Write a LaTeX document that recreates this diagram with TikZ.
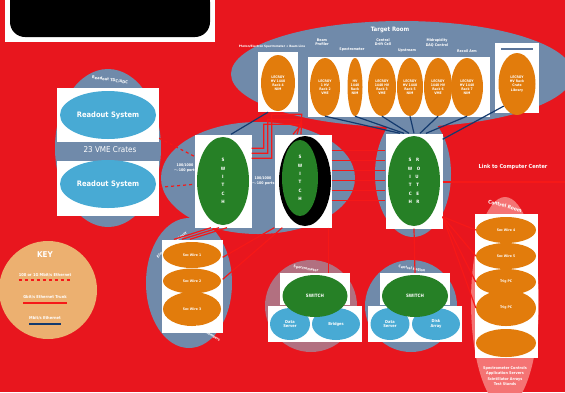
\documentclass[tikz,border=0pt]{standalone}
\usepackage{fontspec}
\setmainfont{DejaVu Sans Condensed}
\usetikzlibrary{shapes.geometric}
\usetikzlibrary{positioning}

\definecolor{bgred}{RGB}{232,22,30}
\definecolor{slate}{RGB}{112,138,170}
\definecolor{orng}{RGB}{226,124,12}
\definecolor{grn}{RGB}{38,128,38}
\definecolor{ltblue}{RGB}{72,170,212}
\definecolor{mauve}{RGB}{178,112,128}
\definecolor{salmon}{RGB}{244,116,116}
\definecolor{tan}{RGB}{236,176,112}
\definecolor{navy}{RGB}{20,58,110}
\definecolor{linered}{RGB}{246,24,24}

\newcommand{\txtsize}[1]{\fontsize{#1}{1.2\dimexpr#1pt\relax}\selectfont}

\tikzset{
  wbox/.style={fill=white, inner sep=0pt},
  oval/.style={ellipse, fill=orng, inner sep=0pt, text=white, align=center, font=\txtsize{3.4}\bfseries},
  gsw/.style={ellipse, fill=grn, inner sep=0pt, text=white, align=center, font=\txtsize{4.5}\bfseries},
  bsys/.style={ellipse, fill=ltblue, inner sep=0pt, text=white, align=center, font=\txtsize{4}\bfseries},
  lbl/.style={text=white, align=center, font=\txtsize{3.6}\bfseries, inner sep=0pt},
  gbit/.style={linered, line width=1.2pt},
  fast/.style={linered, line width=1.2pt, dashed},
  mbit/.style={navy, line width=1.2pt}
}

\begin{document}
\begin{tikzpicture}[x=1pt, y=-1pt]
\fill[bgred] (0,0) rectangle (565,392);
\useasboundingbox (0,0) rectangle (565,392);

% hidden title
\node[wbox, minimum width=210pt, minimum height=42pt] (banner) at (110,21) {};
\node[fill=black, rounded corners=15pt, minimum width=200pt, minimum height=50pt, inner sep=0pt] (blot) at (110,12) {};

% background groups
\node[ellipse, fill=slate, minimum width=342pt, minimum height=106pt] (troom) at (402,74) {};
\node[ellipse, fill=slate, minimum width=106pt, minimum height=158pt] (rdgrp) at (108,148) {};
\node[ellipse, fill=slate, minimum width=194pt, minimum height=112pt] (midgrp) at (258,178) {};
\node[ellipse, fill=slate, minimum width=76pt, minimum height=126pt] (rtgrp) at (413,174) {};
\node[ellipse, fill=slate, minimum width=86pt, minimum height=130pt] (slgrp) at (189,283) {};
\node[circle, fill=mauve, minimum size=92pt] (spgrp) at (311,306) {};
\node[circle, fill=slate, minimum size=92pt] (cngrp) at (411,306) {};
\node[ellipse, fill=salmon, minimum width=68pt, minimum height=210pt] (ctgrp) at (505,302) {};
\node[circle, fill=tan, minimum size=98pt] (key) at (48,290) {};

% target room
\node[text=white, font=\txtsize{6}\bfseries] (trlbl) at (390,30) {Target Room};
\node[wbox, minimum width=40pt, minimum height=60pt] (tr1box) at (278,82) {};
\node[oval, minimum width=34pt, minimum height=56pt] (tr1) at (278,83) {LECROY\\HV 1440\\Rack 4\\NIM};
\node[wbox, minimum width=182pt, minimum height=60pt] (trbox) at (399,87) {};
\node[oval, minimum width=30pt, minimum height=58pt] (tr2) at (325,87) {LECROY\\1 HV\\Rack 2\\VME};
\node[oval, minimum width=15pt, minimum height=58pt] (tr3) at (355,87) {HV\\1440\\Rack\\NIM};
\node[oval, minimum width=28pt, minimum height=58pt] (tr4) at (382,87) {LECROY\\1440 HV\\Rack 3\\VME};
\node[oval, minimum width=26pt, minimum height=58pt] (tr5) at (410,87) {LECROY\\HV 1440\\Rack 5\\NIM};
\node[oval, minimum width=28pt, minimum height=58pt] (tr6) at (438,87) {LECROY\\1440 HV\\Rack 6\\VME};
\node[oval, minimum width=32pt, minimum height=58pt] (tr7) at (467,87) {LECROY\\HV 1440\\Rack 7\\NIM};
\node[wbox, minimum width=44pt, minimum height=70pt] (tr8box) at (517,78) {};
\draw[navy!70, line width=1.5pt] ([xshift=6pt,yshift=-6pt]tr8box.north west) -- ([xshift=-6pt,yshift=-6pt]tr8box.north east);
\node[oval, minimum width=37pt, minimum height=62pt] (tr8) at (517,84) {LECROY\\HV Rack\\Crate\\Library};
\node[lbl, font=\txtsize{3}\bfseries] (l1) at (272,47) {Photon/Electron Spectrometer + Beam Line};
\node[lbl] (l2) at (322,42) {Beam\\Profiler};
\node[lbl] (l3) at (352,50) {Spectrometer};
\node[lbl] (l4) at (383,42) {Central\\Drift Cell};
\node[lbl] (l5) at (407,51) {Upstream};
\node[lbl] (l6) at (437,43) {Midrapidity\\DAQ Control};
\node[lbl] (l7) at (467,51) {Recoil Arm};

% readout crates
\node[lbl, font=\txtsize{4}\bfseries, rotate=-8] (rdlbl) at (110,80) {Readout TDC/ADC};
\node[wbox, minimum width=102pt, minimum height=54pt] (rd1box) at (108,115) {};
\node[bsys, minimum width=96pt, minimum height=48pt, font=\txtsize{7.5}\bfseries] (rd1) at (108,115) {Readout System};
\node[text=white, font=\txtsize{8}] (vme) at (110,150) {23 VME Crates};
\node[wbox, minimum width=102pt, minimum height=55pt] (rd2box) at (108,188) {};
\node[bsys, minimum width=96pt, minimum height=48pt, font=\txtsize{7.5}\bfseries] (rd2) at (108,184) {Readout System};

% switches
\node[wbox, minimum width=57pt, minimum height=93pt] (sw1box) at (223,181) {};
\node[gsw, minimum width=52pt, minimum height=88pt] (sw1) at (223,181) {S\\[3pt]W\\[3pt]I\\[3pt]T\\[3pt]C\\[3pt]H};
\node[wbox, minimum width=57pt, minimum height=93pt] (sw2box) at (303,181) {};
\node[ellipse, fill=black, minimum width=52pt, minimum height=90pt] (sw2rim) at (305,181) {};
\node[gsw, minimum width=36pt, minimum height=76pt] (sw2) at (300,178) {S\\[3pt]W\\[3pt]I\\[3pt]T\\[3pt]C\\[3pt]H};
\node[wbox, minimum width=57pt, minimum height=95pt] (sw3box) at (414,181) {};
\node[gsw, minimum width=52pt, minimum height=90pt] (sw3) at (414,181) {S\quad R\\[3pt]W\quad O\\[3pt]I\quad U\\[3pt]T\quad T\\[3pt]C\quad E\\[3pt]H\quad R};
\node[lbl] (sp1) at (185,168) {100/1000\\$\sim$100 ports};
\node[lbl] (sp2) at (263,181) {100/1000\\$\sim$100 ports};
\node[text=white, font=\txtsize{5.5}\bfseries] (cclbl) at (513,167) {Link to Computer Center};
\coordinate (cc) at (565,182);

% sector wire group
\node[lbl, rotate=40] (sllbl) at (172,245) {Electronics \& Trigger};
\node[wbox, minimum width=61pt, minimum height=93pt] (slbox) at (192,286) {};
\node[oval, minimum width=58pt, minimum height=26pt] (sl1) at (192,255) {Sec Wire 1};
\node[oval, minimum width=58pt, minimum height=25pt] (sl2) at (192,281) {Sec Wire 2};
\node[oval, minimum width=58pt, minimum height=34pt] (sl3) at (192,309) {Sec Wire 3};
\node[lbl, rotate=-30] (sllbl2) at (208,333) {Wire Chambers};

% two small switch groups
\node[lbl, rotate=-10] (splbl) at (306,269) {Spectrometer};
\node[wbox, minimum width=70pt, minimum height=32pt] (spbox) at (315,289) {};
\node[wbox, minimum width=94pt, minimum height=36pt] (spdbox) at (315,324) {};
\node[bsys, minimum width=40pt, minimum height=32pt] (spd1) at (290,324) {Data\\Server};
\node[bsys, minimum width=48pt, minimum height=32pt] (spd2) at (336,324) {Bridges};
\node[gsw, minimum width=65pt, minimum height=42pt] (spsw) at (315,296) {SWITCH};
\node[lbl, rotate=-10] (cnlbl) at (412,269) {Central Region};
\node[wbox, minimum width=70pt, minimum height=32pt] (cnbox) at (415,289) {};
\node[wbox, minimum width=94pt, minimum height=36pt] (cndbox) at (415,324) {};
\node[bsys, minimum width=39pt, minimum height=32pt] (cnd1) at (390,324) {Data\\Server};
\node[bsys, minimum width=48pt, minimum height=32pt] (cnd2) at (436,324) {Disk\\Array};
\node[gsw, minimum width=66pt, minimum height=42pt] (cnsw) at (415,296) {SWITCH};

% control room
\node[lbl, font=\txtsize{5}\bfseries, rotate=-15] (ctlbl) at (505,206) {Control Room};
\node[wbox, minimum width=63pt, minimum height=144pt] (ctbox) at (506,286) {};
\node[oval, minimum width=60pt, minimum height=26pt] (ct1) at (506,230) {Sec Wire 4};
\node[oval, minimum width=60pt, minimum height=26pt] (ct2) at (506,256) {Sec Wire 5};
\node[oval, minimum width=60pt, minimum height=26pt] (ct3) at (506,282) {Trig PC};
\node[oval, minimum width=60pt, minimum height=36pt] (ct4) at (506,308) {Trig PC};
\node[oval, minimum width=60pt, minimum height=28pt] (ct5) at (506,343) {};
\node[lbl, font=\txtsize{3.8}\bfseries] (ctinfo) at (505,376) {Spectrometer Controls\\[1pt]Application Servers\\[1pt]Scintillator Arrays\\[1pt]Test Stands};

% key
\node[text=white, font=\txtsize{8}\bfseries] (keyttl) at (45,255) {KEY};
\node[lbl, font=\txtsize{4}\bfseries] (k1) at (45,275) {100 or 1G Mbit/s Ethernet};
\node[lbl, font=\txtsize{4}\bfseries] (k2) at (45,297) {Gbit/s Ethernet Trunk};
\node[lbl, font=\txtsize{4}\bfseries] (k3) at (45,318) {Mbit/s Ethernet};
\draw[fast] ([yshift=-3pt]k1.south west) -- ([yshift=-3pt]k1.south east);
\draw[gbit] ([yshift=-4pt]k2.south west) -- ([yshift=-4pt]k2.south east);
\draw[mbit] ([yshift=-4pt]k3.south west) -- ([yshift=-4pt]k3.south east);

% connections
\draw[mbit] ([xshift=-10pt]tr1box.south) -- ([xshift=8pt]sw1box.north);
\foreach \n/\dx in {tr2/-14, tr3/-10, tr4/-5, tr5/0, tr6/6, tr7/12}
  \draw[mbit] (\n.south) -- ([xshift=\dx pt]sw3box.north);
\draw[mbit] (tr8.south west) -- ([yshift=-6pt]sw3box.north east);
\draw[fast] ([yshift=4pt]rd1box.south east) -- ([yshift=-22pt]sw1box.north west);
\draw[fast] ([yshift=-27pt]rd2box.north east) -- ([yshift=-50pt]sw1box.north west);
\foreach \k in {0,1,2}
  \draw[gbit] ([yshift=-(14+5*\k)*1pt]sw1box.north east) -- ++(12+4*\k,0) -- ++(0,-24-10*\k)
    -- ++(38-4*\k,0) -- ([xshift=(-10+4*\k)*1pt]sw2box.north);
\foreach \k in {0,...,5}
  \draw[gbit] ([yshift=-(16+10*\k)*1pt]sw2box.north east) -- ([yshift=-(16+10*\k)*1pt]sw2box.north east -| sw3box.west);
\draw[gbit] (sw3box.east |- cc) -- (cc);
\foreach \dx in {-12,-4,4}
  \draw[gbit] ([xshift=\dx pt]sw1box.south) -- ([xshift=(\dx-6)*1pt]slbox.north);
\draw[gbit] (sw2box.south west) -- ([yshift=-18pt]slbox.north east);
\draw[gbit] ([xshift=8pt]sw2box.south west) -- ([yshift=-40pt]slbox.north east);
\draw[gbit] ([xshift=-3pt]sw2box.south east) -- ([xshift=-3pt]sw2box.south east |- spbox.north);
\draw[gbit] (sw3box.south) -- (cnbox.north);
\foreach \n in {ct1,ct2,ct3,ct4}
  \draw[gbit] ([yshift=12pt]sw3box.south east) -- (\n.west);
\end{tikzpicture}
\end{document}
